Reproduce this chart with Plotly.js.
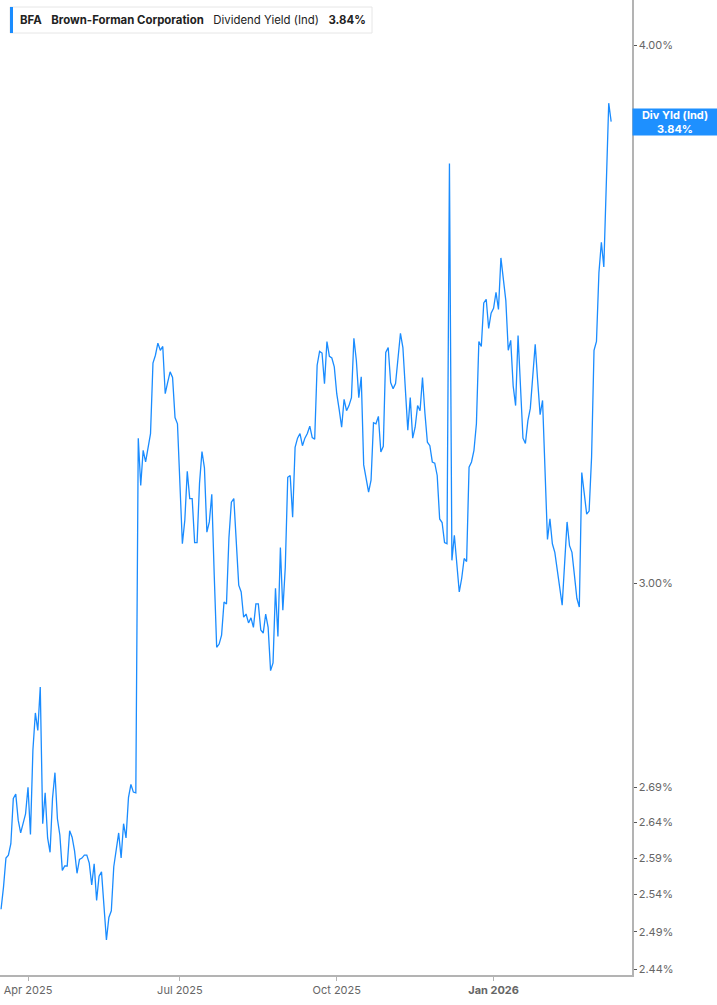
<!DOCTYPE html>
<html>
<head>
<meta charset="utf-8">
<script src="https://cdn.plot.ly/plotly-3.0.1.min.js"></script>
<style>
  html, body { margin: 0; padding: 0; background: #fff; }
  #chart { width: 717px; height: 1005px; }
</style>
</head>
<body>
<div id="chart"></div>
<script>
// first trading day shown and the market holidays skipped in the period
const START_DATE = '2025-03-17';
const HOLIDAYS = [
  '2025-04-18', '2025-05-26', '2025-06-19', '2025-07-04', '2025-09-01',
  '2025-11-27', '2025-12-25', '2026-01-01', '2026-01-19', '2026-02-16',
];

// dividend yield (ind), percent, one value per trading day
const divYield = [
  2.52, 2.55, 2.59, 2.594, 2.61, 2.674, 2.68, 2.643, 2.625, 2.638,
  2.652, 2.69, 2.623, 2.744, 2.799, 2.773, 2.838, 2.638, 2.682, 2.618,
  2.598, 2.674, 2.711, 2.645, 2.622, 2.573, 2.579, 2.579, 2.628, 2.619,
  2.60, 2.569, 2.588, 2.59, 2.594, 2.594, 2.583, 2.553, 2.582, 2.532,
  2.565, 2.571, 2.528, 2.479, 2.509, 2.518, 2.578, 2.605, 2.625, 2.59,
  2.638, 2.618, 2.675, 2.694, 2.683, 2.682, 3.242, 3.161, 3.221, 3.201,
  3.226, 3.250, 3.375, 3.389, 3.411, 3.398, 3.405, 3.320, 3.340, 3.359,
  3.349, 3.278, 3.267, 3.153, 3.064, 3.103, 3.185, 3.139, 3.139, 3.066,
  3.066, 3.165, 3.219, 3.191, 3.083, 3.100, 3.146, 3.013, 2.899, 2.904,
  2.918, 2.970, 2.967, 3.074, 3.133, 3.139, 3.064, 2.997, 2.986, 2.946,
  2.951, 2.937, 2.945, 2.930, 2.967, 2.967, 2.926, 2.921, 2.951, 2.930,
  2.863, 2.875, 2.992, 2.916, 3.058, 2.957, 3.026, 3.175, 3.178, 3.108,
  3.226, 3.242, 3.250, 3.229, 3.242, 3.250, 3.263, 3.243, 3.240, 3.371,
  3.396, 3.393, 3.338, 3.414, 3.387, 3.384, 3.368, 3.320, 3.292, 3.261,
  3.310, 3.290, 3.299, 3.313, 3.420, 3.380, 3.313, 3.350, 3.196, 3.175,
  3.150, 3.170, 3.269, 3.267, 3.280, 3.218, 3.228, 3.394, 3.403, 3.340,
  3.329, 3.338, 3.384, 3.429, 3.403, 3.338, 3.256, 3.313, 3.242, 3.261,
  3.299, 3.290, 3.349, 3.285, 3.235, 3.229, 3.201, 3.199, 3.178, 3.105,
  3.099, 3.066, 3.064, 3.755, 3.037, 3.078, 3.032, 2.986, 3.008, 3.040,
  3.035, 3.192, 3.201, 3.221, 3.267, 3.414, 3.405, 3.485, 3.492, 3.438,
  3.466, 3.475, 3.505, 3.473, 3.570, 3.527, 3.490, 3.398, 3.416, 3.334,
  3.299, 3.425, 3.326, 3.242, 3.233, 3.272, 3.294, 3.361, 3.409, 3.343,
  3.283, 3.308, 3.199, 3.071, 3.105, 3.064, 3.050, 3.021, 2.994, 2.965,
  3.032, 3.100, 3.061, 3.050, 3.013, 2.976, 2.962, 3.183, 3.148, 3.113,
  3.118, 3.209, 3.398, 3.414, 3.542, 3.600, 3.553, 3.712, 3.878, 3.84,
];

const xTickVals = ['2025-04-01', '2025-07-01', '2025-10-01', '2026-01-02'];
const xTickText = ['Apr 2025', 'Jul 2025', 'Oct 2025', '<b>Jan 2026</b>'];
const yTickVals = [2.44, 2.49, 2.54, 2.59, 2.64, 2.69, 3.00, 4.00];

const LINE_BLUE = '#1a8cff';
const AXIS_GREY = '#b3b3b3';
const TICK_INK = '#666666';
const FONT = 'Inter, "Noto Sans", Arial, sans-serif';

// build the trading-day calendar (weekdays minus holidays)
function tradingDays(start, count) {
  const out = [];
  const d = new Date(`${start}T00:00:00Z`);
  while (out.length < count) {
    const day = d.getUTCDay();
    const iso = d.toISOString().slice(0, 10);
    if (day !== 0 && day !== 6 && !HOLIDAYS.includes(iso)) out.push(iso);
    d.setUTCDate(d.getUTCDate() + 1);
  }
  return out;
}

const dates = tradingDays(START_DATE, divYield.length);
const lastValue = divYield[divYield.length - 1];

// plot area is 632 x 975 px, used to place the header box
const PW = 632;
const PH = 975;
const px = (v) => v / PW;
const py = (v) => 1 - v / PH;
const sp = '\u00a0\u00a0\u00a0';

const trace = {
  type: 'scatter',
  mode: 'lines',
  x: dates,
  y: divYield,
  line: { color: LINE_BLUE, width: 1.3 },
  hoverinfo: 'skip',
};

const layout = {
  width: 717,
  height: 1005,
  margin: { l: 0, r: 85, t: 0, b: 30 },
  paper_bgcolor: '#ffffff',
  plot_bgcolor: '#ffffff',
  showlegend: false,
  font: { family: FONT, color: TICK_INK, size: 11 },
  xaxis: {
    type: 'category',
    range: [-0.43, 257.5],
    tickmode: 'array',
    tickvals: xTickVals,
    ticktext: xTickText,
    showgrid: false,
    zeroline: false,
    showline: true,
    linecolor: AXIS_GREY,
    linewidth: 1.5,
    ticks: 'outside',
    ticklen: 4,
    tickcolor: AXIS_GREY,
    tickfont: { family: FONT, size: 11, color: TICK_INK },
  },
  yaxis: {
    type: 'log',
    side: 'right',
    range: [Math.log10(2.433), Math.log10(4.098)],
    tickmode: 'array',
    tickvals: yTickVals,
    ticktext: yTickVals.map((v) => `${v.toFixed(2)}%`),
    showgrid: false,
    zeroline: false,
    showline: true,
    linecolor: AXIS_GREY,
    linewidth: 1.5,
    ticks: 'outside',
    ticklen: 3,
    tickcolor: '#555555',
    tickfont: { family: FONT, size: 11, color: TICK_INK },
  },
  shapes: [
    {
      type: 'rect', xref: 'paper', yref: 'paper',
      x0: px(10), x1: px(372), y0: py(33), y1: py(7),
      fillcolor: '#ffffff', line: { color: '#e6e6e6', width: 1 },
    },
    {
      type: 'rect', xref: 'paper', yref: 'paper',
      x0: px(10), x1: px(13), y0: py(33), y1: py(7),
      fillcolor: LINE_BLUE, line: { width: 0 },
    },
  ],
  annotations: [
    {
      xref: 'paper', yref: 'paper',
      x: px(18), y: py(20), xanchor: 'left', yanchor: 'middle',
      showarrow: false,
      text: `<b>BFA</b>${sp}<b>Brown-Forman Corporation</b>${sp}Dividend Yield (Ind)${sp}<b>${lastValue.toFixed(2)}%</b>`,
      font: { family: FONT, size: 11.4, color: '#222222' },
    },
    {
      xref: 'paper', yref: 'y',
      x: 1, y: Math.log10(lastValue), xanchor: 'left', yanchor: 'middle',
      showarrow: false,
      width: 84,
      height: 26,
      align: 'center',
      bgcolor: '#1e90ff',
      borderpad: 0,
      text: `<b>Div Yld (Ind)</b><br><b>${lastValue.toFixed(2)}%</b>`,
      font: { family: FONT, size: 11, color: '#ffffff' },
    },
  ],
};

Plotly.newPlot('chart', [trace], layout, { displayModeBar: false, staticPlot: true });
</script>
</body>
</html>
